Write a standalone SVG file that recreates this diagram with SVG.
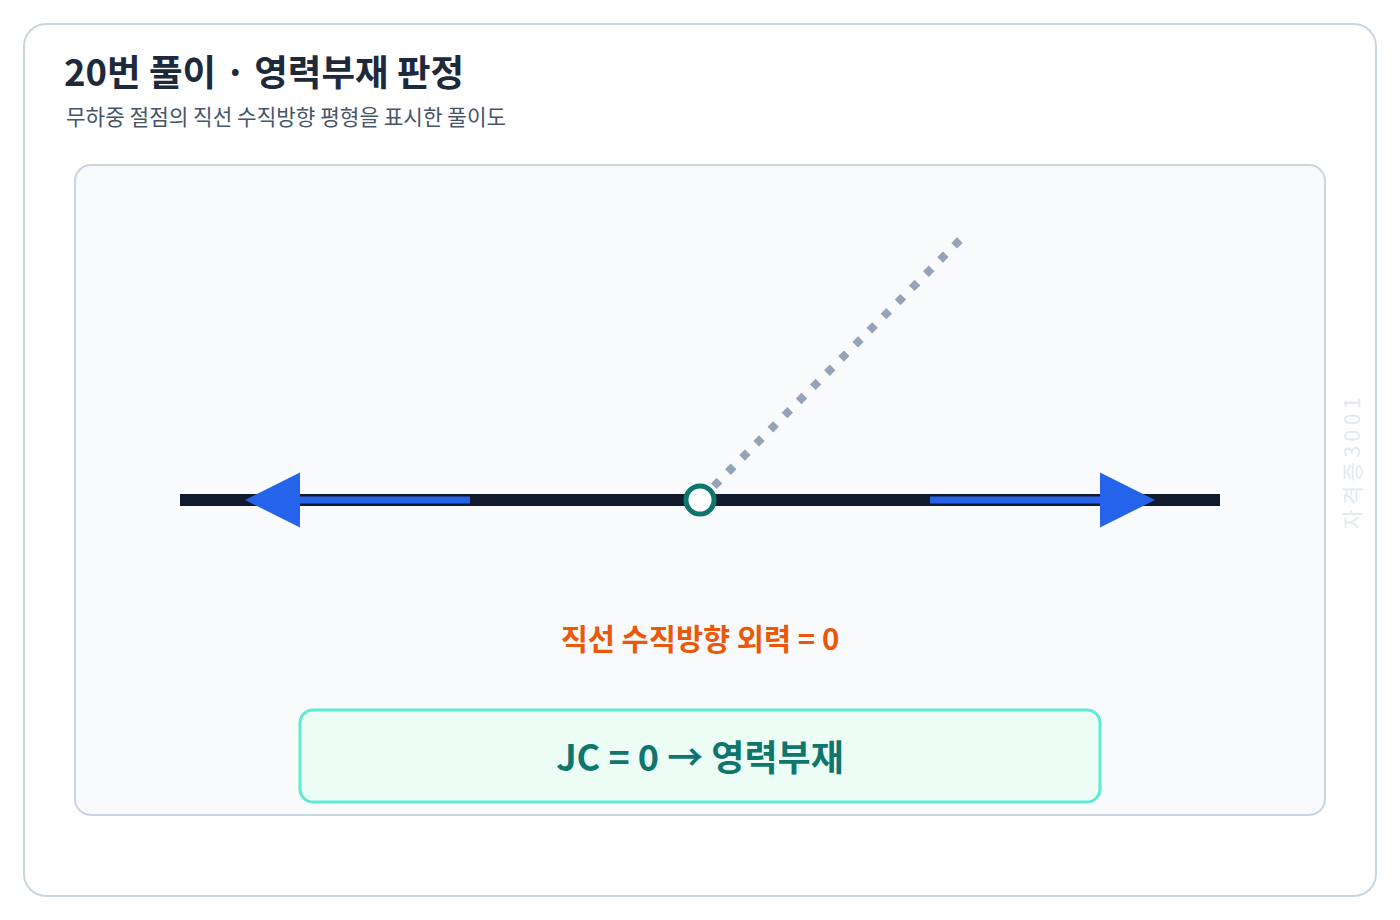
<svg xmlns="http://www.w3.org/2000/svg" width="1400" height="920" viewBox="0 0 1400 920">
  <style>
    .ko { font-family: "Noto Sans CJK KR", "Noto Sans", sans-serif; }
    .title { font-size: 36.5px; font-weight: 700; fill: #1e293b; }
    .sub { font-size: 21.3px; fill: #475569; }
    .force { font-size: 29.5px; font-weight: 700; fill: #ea580c; }
    .result { font-size: 36px; font-weight: 700; fill: #0f766e; }
    .wm { font-size: 21px; fill: #e2e8f0; letter-spacing: 4.5px; }
  </style>
  <rect x="24" y="24" width="1352" height="872" rx="22" fill="#ffffff" stroke="#cbd5e1" stroke-width="2"/>
  <text class="ko title" x="64" y="86">20번 풀이 · 영력부재 판정</text>
  <text class="ko sub" x="66" y="125">무하중 절점의 직선 수직방향 평형을 표시한 풀이도</text>
  <rect x="75" y="165" width="1250" height="650" rx="16" fill="#f8fafc" stroke="#cbd5e1" stroke-width="2"/>
  <g id="connectors">
    <line id="member-main" x1="180" y1="500" x2="1220" y2="500" stroke="#131c2e" stroke-width="12"/>
    <line id="member-diag" x1="700" y1="500" x2="960" y2="240" stroke="#94a3b8" stroke-width="8" stroke-dasharray="8 12" stroke-dashoffset="0.5"/>
    <g id="force-left" fill="#2563eb">
      <rect x="298" y="496.5" width="172" height="7"/>
      <polygon points="245,500 300,472.5 300,527.5"/>
    </g>
    <g id="force-right" fill="#2563eb">
      <rect x="930" y="496.5" width="172" height="7"/>
      <polygon points="1155,500 1100,472.5 1100,527.5"/>
    </g>
  </g>
  <g id="node-J">
    <circle cx="700" cy="500" r="14" fill="#ffffff" stroke="#0f766e" stroke-width="5"/>
  </g>
  <g id="label-force">
    <text class="ko force" x="700" y="650" text-anchor="middle">직선 수직방향 외력 = 0</text>
  </g>
  <g id="result-box">
    <rect x="300" y="710" width="800" height="92" rx="13" fill="#ecfdf5" stroke="#5eead4" stroke-width="3"/>
    <text class="ko result" x="700" y="771" text-anchor="middle">JC = 0 → 영력부재</text>
  </g>
  <text class="ko wm" x="0" y="0" text-anchor="middle" transform="translate(1360 461) rotate(-90)">자격증3001</text>
</svg>
